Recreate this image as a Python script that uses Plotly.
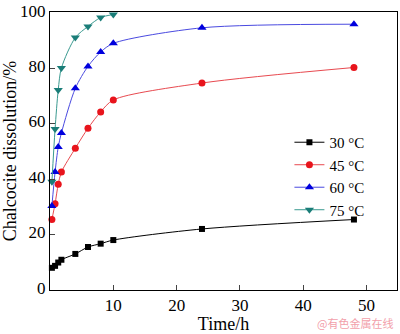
import plotly.graph_objects as go

time_h = [0.3, 0.8, 1.3, 1.8, 4, 6, 8, 10, 24, 48]
time_75 = [0.3, 0.8, 1.3, 1.8, 4, 6, 8, 10]
d30 = [8.0, 8.7, 9.9, 10.9, 13.0, 15.5, 16.7, 18.0, 22.0, 25.4]
d45 = [25.4, 31.1, 38.1, 42.5, 51.1, 58.3, 64.2, 68.5, 74.6, 80.2]
d60 = [30.3, 42.5, 51.5, 56.6, 72.7, 80.6, 85.8, 88.9, 94.5, 95.8]
d75 = [39.0, 58.0, 72.1, 80.0, 91.0, 95.0, 98.2, 99.3]

x_ticks = [10, 20, 30, 40, 50]
y_ticks = [0, 20, 40, 60, 80, 100]

series = [
    ("30 °C", time_h, d30, "#000000", "#000000", "square", 6),
    ("45 °C", time_h, d45, "#e8141c", "#e84a50", "circle", 7),
    ("60 °C", time_h, d60, "#0000dd", "#4a4ae0", "triangle-up", 8),
    ("75 °C", time_75, d75, "#1a7d78", "#3a9a90", "triangle-down", 8),
]

fig = go.Figure()
for name, x, y, mc, lc, sym, sz in series:
    fig.add_trace(go.Scatter(
        x=x, y=y, name=name, mode="lines+markers",
        line=dict(color=lc, width=1, shape="spline", smoothing=0.8),
        marker=dict(color=mc, symbol=sym, size=sz, line=dict(width=0)),
        cliponaxis=False,
    ))

font_family = "Liberation Serif, Times New Roman, serif"
fig.update_layout(
    width=400, height=334,
    margin=dict(l=50, r=2, t=5, b=41),
    paper_bgcolor="white", plot_bgcolor="white",
    font=dict(family=font_family, size=17, color="black"),
    showlegend=True,
    legend=dict(x=0.69, y=0.59, xanchor="left", yanchor="top",
                bgcolor="rgba(0,0,0,0)", font=dict(size=15, family=font_family),
                itemwidth=30, tracegroupgap=0),
    xaxis=dict(range=[0, 54.8], tickvals=x_ticks, ticks="inside", ticklen=5,
               showline=True, linecolor="black", linewidth=1, mirror=True,
               showgrid=False, zeroline=False,
               title=dict(text="Time/h", font=dict(size=18), standoff=4),
               tickfont=dict(size=17)),
    yaxis=dict(range=[0, 100.2], tickvals=y_ticks, ticks="inside", ticklen=5,
               showline=True, linecolor="black", linewidth=1, mirror=True,
               showgrid=False, zeroline=False, ticklabeloverflow="allow",
               ticklabelshift=-2,
               title=dict(text="Chalcocite dissolution/%", font=dict(size=18), standoff=2),
               tickfont=dict(size=17)),
)
fig.add_annotation(text="@有色金属在线", xref="paper", yref="paper",
                   x=0.995, y=-0.118, xanchor="right", yanchor="middle", showarrow=False,
                   font=dict(size=11, color="#f2a0aa", family="Noto Sans CJK SC"))
fig.write_html("out.html")
